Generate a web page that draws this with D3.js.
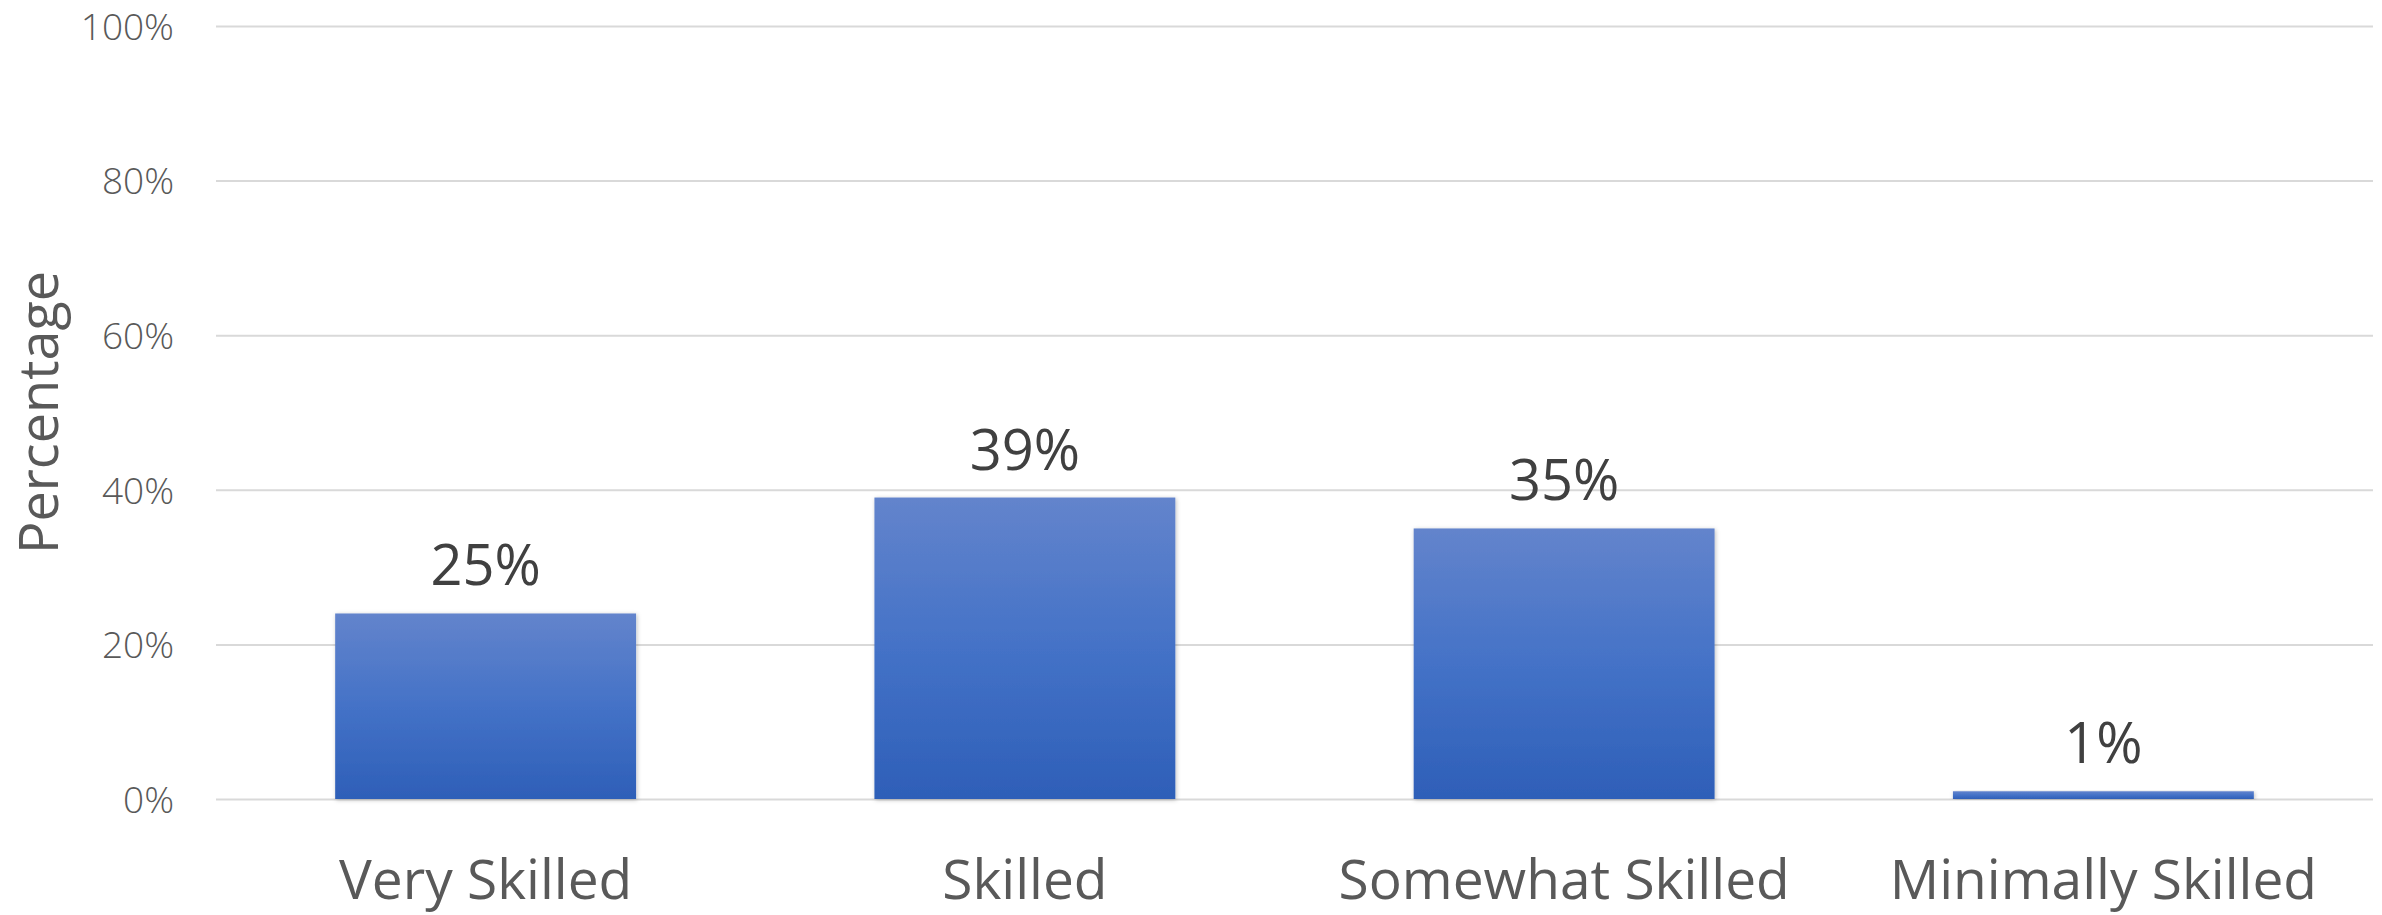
<!DOCTYPE html>
<html>
<head>
<meta charset="utf-8">
<script src="https://cdn.jsdelivr.net/npm/d3@7"></script>
<style>
  html, body { margin: 0; padding: 0; background: #fff; }
  svg { display: block; }
</style>
</head>
<body>
<div class="chart"></div>
<script>
  // chart data
  var categories = ["Very Skilled", "Skilled", "Somewhat Skilled", "Minimally Skilled"];
  var values = [24, 39, 35, 1];
  var valueLabels = ["25%", "39%", "35%", "1%"];
  var yTicks = [0, 20, 40, 60, 80, 100];

  var width = 2382;
  var height = 915;
  var margin = { top: 26, right: 9, bottom: 116, left: 216 };

  var svg = d3.select(".chart").append("svg")
    .attr("width", width)
    .attr("height", height);

  var defs = svg.append("defs");
  var grad = defs.append("linearGradient")
    .attr("id", "barGrad")
    .attr("x1", 0).attr("y1", 0).attr("x2", 0).attr("y2", 1);
  grad.append("stop").attr("offset", "0%").attr("stop-color", "#6384cc");
  grad.append("stop").attr("offset", "50%").attr("stop-color", "#4472c7");
  grad.append("stop").attr("offset", "100%").attr("stop-color", "#2e5fb8");

  var shadow = defs.append("filter").attr("id", "shadow")
    .attr("x", "-5%").attr("y", "-5%").attr("width", "110%").attr("height", "115%");
  shadow.append("feDropShadow")
    .attr("dx", 1).attr("dy", 1).attr("stdDeviation", 2)
    .attr("flood-color", "#000").attr("flood-opacity", 0.25);

  var x = d3.scaleBand()
    .domain(categories)
    .range([margin.left, width - margin.right])
    .paddingInner(0.442)
    .paddingOuter(0.221);

  var y = d3.scaleLinear()
    .domain([0, 100])
    .range([height - margin.bottom, margin.top]);

  // gridlines + y labels
  var yAxis = svg.append("g")
    .attr("transform", "translate(" + margin.left + ",0)")
    .call(d3.axisLeft(y)
      .tickValues(yTicks)
      .tickSize(-(width - margin.left - margin.right))
      .tickPadding(42)
      .tickFormat(function(d) { return d + "%"; }));
  yAxis.select(".domain").remove();
  yAxis.selectAll(".tick line")
    .attr("stroke", "#d9d9d9")
    .attr("stroke-width", 2);
  yAxis.selectAll(".tick text")
    .attr("fill", "#595959")
    .attr("dy", "0.36em")
    .style("font-family", "'Open Sans', sans-serif")
    .style("font-weight", 300)
    .style("font-size", "37px");

  // bars
  svg.append("g").selectAll("rect")
    .data(values)
    .enter().append("rect")
    .attr("x", function(d, i) { return x(categories[i]); })
    .attr("y", function(d) { return y(d); })
    .attr("width", x.bandwidth())
    .attr("height", function(d) { return y(0) - y(d); })
    .attr("fill", "url(#barGrad)")
    .attr("filter", "url(#shadow)");

  // value labels
  svg.append("g").selectAll("text")
    .data(values)
    .enter().append("text")
    .attr("x", function(d, i) { return x(categories[i]) + x.bandwidth() / 2; })
    .attr("y", function(d) { return y(d) - 28; })
    .attr("text-anchor", "middle")
    .attr("fill", "#404040")
    .style("font-family", "'Open Sans', sans-serif")
    .style("font-size", "56px")
    .text(function(d, i) { return valueLabels[i]; });

  // category labels
  svg.append("g").selectAll("text")
    .data(categories)
    .enter().append("text")
    .attr("x", function(d) { return x(d) + x.bandwidth() / 2; })
    .attr("y", 899)
    .attr("text-anchor", "middle")
    .attr("fill", "#595959")
    .style("font-family", "'Open Sans', sans-serif")
    .style("font-size", "55px")
    .text(function(d) { return d; });

  // y axis title
  svg.append("text")
    .attr("transform", "translate(58," + (y(50)) + ") rotate(-90)")
    .attr("text-anchor", "middle")
    .attr("fill", "#595959")
    .style("font-family", "'Open Sans', sans-serif")
    .style("font-size", "54px")
    .text("Percentage");
</script>
</body>
</html>
